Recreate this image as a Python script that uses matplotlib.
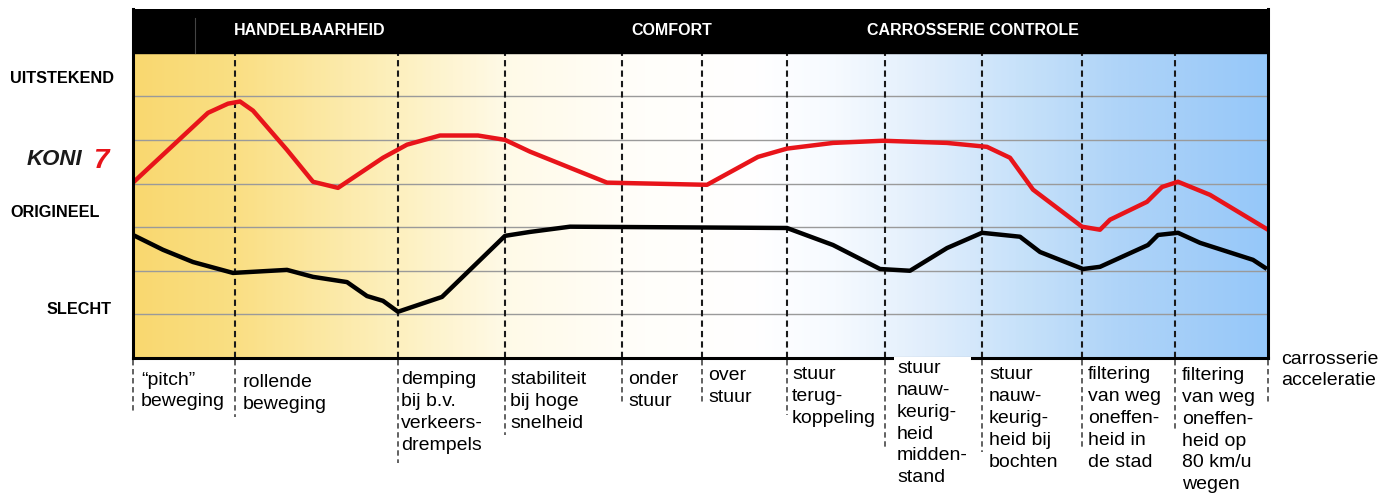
import numpy as np
import matplotlib
matplotlib.use("Agg")
import matplotlib.pyplot as plt
from matplotlib.colors import LinearSegmentedColormap

plt.rcParams['font.family'] = ['Liberation Sans', 'DejaVu Sans']

# criteria along the x axis, each starts at a dashed line
criteria = ['\u201cpitch\u201d\nbeweging', 'rollende\nbeweging',
            'demping\nbij b.v.\nverkeers-\ndrempels',
            'stabiliteit\nbij hoge\nsnelheid', 'onder\nstuur', 'over\nstuur',
            'stuur\nterug-\nkoppeling',
            'stuur\nnauw-\nkeurig-\nheid\nmidden-\nstand',
            'stuur\nnauw-\nkeurig-\nheid bij\nbochten',
            'filtering\nvan weg\noneffen-\nheid in\nde stad',
            'filtering\nvan weg\noneffen-\nheid op\n80 km/u\nwegen',
            'carrosserie\nacceleratie']
criteria_start = [0, 102, 265, 372, 489, 569, 654, 752, 849, 949, 1042, 1135]

groups = ['HANDELBAARHEID', 'COMFORT', 'CARROSSERIE CONTROLE']
group_center = [177, 539, 840]

levels = ['UITSTEKEND', 'ORIGINEEL', 'SLECHT']
level_y = [6.4, 3.33, 1.12]

# KONI (red) and original (black) rating curves, 0 = slecht .. 7
koni_x = [0, 75, 95, 107, 120, 154, 180, 205, 250, 274, 307, 345, 372, 397, 474, 574,
          625, 654, 700, 750, 814, 854, 877, 900, 949, 967, 977, 1014, 1029, 1045, 1077, 1135]
koni_y = [4.02, 5.62, 5.83, 5.88, 5.67, 4.77, 4.04, 3.90, 4.59, 4.89, 5.10, 5.10, 5.00, 4.73, 4.02, 3.97,
          4.61, 4.80, 4.93, 4.98, 4.93, 4.84, 4.59, 3.86, 3.01, 2.94, 3.17, 3.58, 3.92, 4.04, 3.74, 2.94]

orig_x = [0, 30, 60, 100, 154, 180, 214, 234, 250, 265, 309, 372, 397, 437, 654,
          700, 747, 777, 814, 849, 887, 907, 950, 967, 1015, 1025, 1045, 1067, 1120, 1132]
orig_y = [2.82, 2.48, 2.20, 1.95, 2.02, 1.86, 1.74, 1.42, 1.31, 1.06, 1.40, 2.80, 2.89, 3.01, 2.98,
          2.59, 2.04, 2.00, 2.52, 2.87, 2.78, 2.43, 2.04, 2.09, 2.59, 2.82, 2.87, 2.64, 2.25, 2.07]

# layout of the labels below the axis
label_dx = [8, 8, 3, 5, 6, 6, 5, 12, 7, 6, 7, 13]
label_top = [-0.31, -0.36, -0.30, -0.30, -0.30, -0.21, -0.19, -0.05, -0.19, -0.19, -0.21, 0.17]
dash_bottom = [-1.26, -1.35, -2.41, -1.77, -1.08, -1.08, -1.31, -2.11, -2.16, -2.04, -1.65, -1.08]


fig = plt.figure(figsize=(13.92, 4.95), dpi=100)
ax = fig.add_axes([133/1392, 137/495, 1135/1392, 349/495])
ax.set_xlim(0, 1135)
ax.set_ylim(0, 8)

# background gradient yellow -> white -> blue
grad = LinearSegmentedColormap.from_list("bg", [
  (0.00, (249/255, 216/255, 112/255)),
  (0.09, (250/255, 223/255, 132/255)),
  (0.23, (253/255, 240/255, 190/255)),
  (0.33, (255/255, 250/255, 232/255)),
  (0.45, (255/255, 254/255, 250/255)),
  (0.55, (1, 1, 1)),
  (0.62, (246/255, 250/255, 255/255)),
  (0.70, (225/255, 238/255, 252/255)),
  (0.78, (200/255, 226/255, 250/255)),
  (0.87, (175/255, 212/255, 248/255)),
  (0.94, (162/255, 205/255, 248/255)),
  (1.00, (150/255, 200/255, 250/255))])
ax.imshow(np.linspace(0, 1, 400).reshape(1, -1), cmap=grad, aspect='auto',
          extent=(0, 1135, 0, 7), zorder=0)

for y in range(1, 7):
  ax.axhline(y, color='#9a9a9a', lw=1, zorder=1)

# header bar
ax.axhspan(7, 8, color='black', zorder=2)
ax.plot([62, 62], [7, 7.8], color='#444444', lw=0.8, zorder=2.1)
for name, cx in zip(groups, group_center):
  ax.text(cx, 7.5, name, color='white', fontsize=11.5, fontweight='bold',
          ha='center', va='center', zorder=3)

# dashed separators and criterion labels
for i, (name, x0) in enumerate(zip(criteria, criteria_start)):
  if 0 < x0 < 1135:
    ax.plot([x0, x0], [0, 7], color='#1a1a1a', lw=1.5, dashes=(3, 2), zorder=1.5)
  ax.plot([x0, x0], [-0.05, dash_bottom[i]], color='#555555', lw=1.3, dashes=(3, 2),
          clip_on=False)
  kw = {}
  if i == 7:
    kw['bbox'] = dict(facecolor='white', edgecolor='none', pad=2)
  ax.text(x0 + label_dx[i], label_top[i], name, fontsize=14, va='top', ha='left',
          linespacing=1.37, clip_on=False, zorder=4, **kw)

ax.plot(koni_x, koni_y, color='#e8141a', lw=3.2, solid_joinstyle='round', zorder=3)
ax.plot(orig_x, orig_y, color='black', lw=3.2, solid_joinstyle='round', zorder=3)

# rating levels on the left
for name, y in zip(levels, level_y):
  x = -86 if name == 'SLECHT' else -123
  ax.text(x, y, name, fontsize=11.7, fontweight='bold', ha='left', va='center', clip_on=False)
ax.text(-106, 4.54, 'KONI', fontsize=16, fontweight='heavy', style='italic',
        ha='left', va='center', clip_on=False, color='#1a1a1a')
ax.text(-40, 4.52, '7', fontsize=20, fontweight='heavy', style='italic', color='#e8141a',
        ha='left', va='center', clip_on=False)

for s in ['left', 'right', 'bottom']:
  ax.spines[s].set_linewidth(2.2)
  ax.spines[s].set_zorder(3.5)
ax.spines['top'].set_visible(False)
ax.spines['bottom'].set_bounds(0, 1135)
ax.spines['left'].set_bounds(0, 8)
ax.spines['right'].set_bounds(0, 8)
ax.set_xticks([])
ax.set_yticks([])

plt.savefig("out.png", dpi=100)
